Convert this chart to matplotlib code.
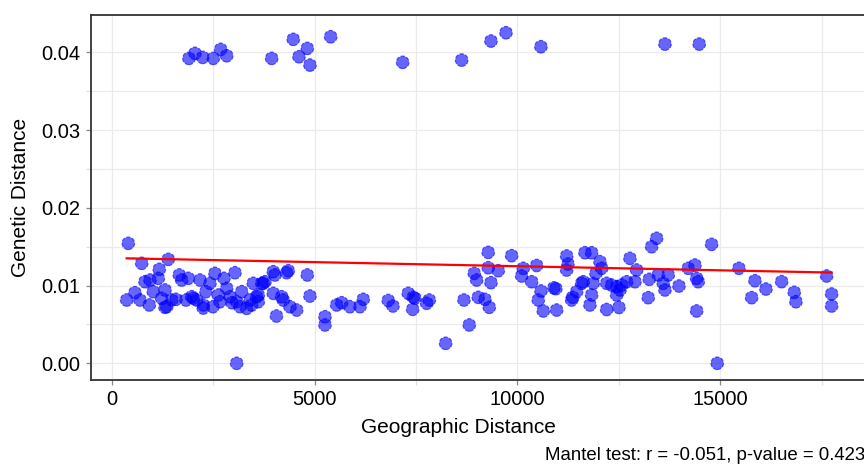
import matplotlib
matplotlib.use("Agg")
import matplotlib.pyplot as plt
from matplotlib.ticker import MultipleLocator, FormatStrFormatter

plt.rcParams['font.family'] = ['Liberation Sans', 'DejaVu Sans']

# pairwise distances (geographic, genetic)
geo_low = [410, 740, 1395, 1173, 370, 574, 698, 927, 821, 1025, 944, 1149, 1314, 1233,
           1356, 1479, 1585, 1666, 1726, 1888, 1972, 2095, 2177, 2258, 2324, 2423, 2546,
           2628, 2670, 2768, 2835, 2916, 3039, 3081, 3163, 3328, 3490, 3574,
           2011, 2258, 3205, 3737, 3614, 1831, 2497, 2965, 3409, 1314, 3698, 3779, 3614, 3451,
           3983, 4025, 4314, 4353, 4822, 3983, 4191, 4230, 4888, 4395, 4560, 4062, 3081,
           5258, 5258, 5546, 5670, 5874, 6121, 6202, 6818, 6934, 7311, 7434, 7476, 7420,
           7765, 7829, 8233, 8684, 8815, 8938, 8997, 9037, 9202, 9308, 9283, 9283, 9350,
           9530, 9860, 10107, 10146, 10353, 10476, 10582, 10516, 10639, 10969, 10900, 10950,
           11216, 11248, 11216, 11339, 11364, 11462, 11586, 11625, 11667, 11832, 11790,
           11832, 11871, 11938, 12037, 12079, 12202, 12505, 12202, 12325, 12448, 12530,
           12572, 12695, 12776, 12941, 12899, 13227, 13252, 13311, 13434, 13474, 13597,
           13639, 13720, 13984, 14213, 14378, 14420, 14460, 14420, 14790, 14928, 15463,
           15857, 15776, 16129, 16516, 16826, 16868, 17625, 17748, 17748, 12448]
gen_low = [0.01543, 0.01286, 0.01337, 0.01209, 0.00814, 0.00908, 0.00814, 0.00750, 0.01049,
           0.00921, 0.01071, 0.01093, 0.00943, 0.00836, 0.00728, 0.00814, 0.00823, 0.01136,
           0.01071, 0.01093, 0.00856, 0.00814, 0.01071, 0.00750, 0.00921, 0.01029, 0.01157,
           0.00878, 0.00792, 0.01093, 0.00965, 0.00856, 0.01165, 0.00792, 0.00728, 0.00707,
           0.01029, 0.00856,
           0.00836, 0.00711, 0.00921, 0.01029, 0.00878, 0.00814, 0.00728, 0.00779, 0.00814,
           0.00720, 0.01029, 0.01049, 0.00792, 0.00750,
           0.01178, 0.01136, 0.01165, 0.01191, 0.01136, 0.00900, 0.00856, 0.00814, 0.00865,
           0.00728, 0.00685, 0.00608, 0.0,
           0.00599, 0.00493, 0.00750, 0.00779, 0.00728, 0.00728, 0.00823, 0.00808, 0.00737,
           0.00900, 0.00849, 0.00836, 0.00694, 0.00772, 0.00814, 0.00257, 0.00814, 0.00493,
           0.01157, 0.01071, 0.00849, 0.00823, 0.00720, 0.01427, 0.01229, 0.01037, 0.01191,
           0.01384, 0.01123, 0.01222, 0.01049, 0.01258, 0.00930, 0.00814, 0.00673, 0.00685,
           0.00970, 0.00960, 0.01380, 0.01277, 0.01200, 0.00814, 0.00849, 0.00921, 0.01029,
           0.01049, 0.01422, 0.01422, 0.00750, 0.00878, 0.01029, 0.01157, 0.01307, 0.01222,
           0.00692, 0.00718, 0.01029, 0.01007, 0.00985, 0.00943, 0.01007, 0.01049, 0.01350,
           0.01200, 0.01049, 0.00844, 0.01080, 0.01499, 0.01608, 0.01136, 0.01029, 0.00943,
           0.01136, 0.00994, 0.01222, 0.01264, 0.01093, 0.01049, 0.00673, 0.01530, 0.0,
           0.01222, 0.01062, 0.00844, 0.00955, 0.01050, 0.00913, 0.00792, 0.01123, 0.00891,
           0.00737, 0.00878]

geo_high = [1905, 2053, 2243, 2504, 2687, 2835, 3944, 4476, 4822, 4617, 4888, 5398, 7173,
            8628, 9350, 9720, 10582, 13639, 14484]
gen_high = [0.03922, 0.03987, 0.03935, 0.03922, 0.04038, 0.03956, 0.03922, 0.04167, 0.04051,
            0.03943, 0.03836, 0.04200, 0.03871, 0.03900, 0.04145, 0.04252, 0.04072, 0.04106,
            0.04106]

# fitted line end points
fit_x = [370, 17748]
fit_y = [0.01350, 0.01167]

caption = "Mantel test: r = -0.051, p-value = 0.423"

fig = plt.figure(figsize=(8.64, 4.67), dpi=100)
ax = fig.add_axes([91 / 864, 87 / 467, 776 / 864, 365 / 467])

ax.scatter(geo_low + geo_high, gen_low + gen_high, s=82, color='blue', alpha=0.6,
           edgecolors='blue', linewidths=0.8, linestyle='--', zorder=3)
ax.plot(fit_x, fit_y, color='red', lw=1.6, zorder=4)

ax.set_xlim(-510, 18620)
ax.set_ylim(-0.00215, 0.0448)
ax.xaxis.set_major_locator(MultipleLocator(5000))
ax.xaxis.set_minor_locator(MultipleLocator(2500))
ax.yaxis.set_major_locator(MultipleLocator(0.01))
ax.yaxis.set_minor_locator(MultipleLocator(0.005))
ax.yaxis.set_major_formatter(FormatStrFormatter('%.2f'))

ax.grid(True, which='both', color='#EBEBEB', lw=0.9, zorder=0)
ax.set_axisbelow(True)

for side in ['left', 'top', 'bottom', 'right']:
    ax.spines[side].set_color('#333333')
    ax.spines[side].set_linewidth(1.3)

ax.tick_params(which='major', length=3.5, width=0.9, color='#888888',
               labelsize=14.5, labelcolor='black', pad=4)
ax.tick_params(which='minor', length=3.5, width=0.9, color='#E0E0E0')

ax.set_xlabel('Geographic Distance', fontsize=15, labelpad=4)
ax.xaxis.set_label_coords(0.474, -0.105)
ax.set_ylabel('Genetic Distance', fontsize=15, labelpad=8)

fig.text(545 / 864, 12 / 467, caption, fontsize=13.4, ha='left', va='center')

fig.savefig('out.png', dpi=100)
